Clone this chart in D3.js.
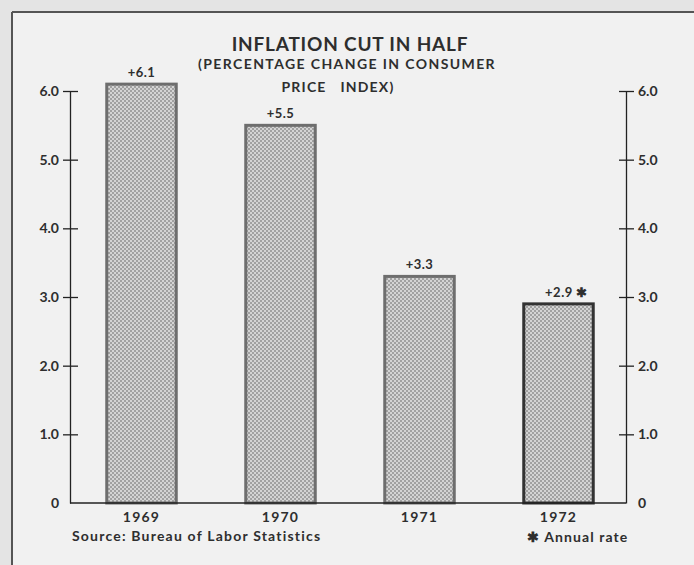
<!DOCTYPE html>
<html>
<head>
<meta charset="utf-8">
<script src="https://cdn.jsdelivr.net/npm/d3@7"></script>
<style>
  body { margin: 0; background: #e6e6e6; }
  svg { display: block; }
  text { font-family: Lato, "Open Sans", sans-serif; fill: #2e2e2e; }
</style>
</head>
<body>
<div id="container"></div>
<script>
// chart values
var years = ["1969", "1970", "1971", "1972"];
var changes = [6.1, 5.5, 3.3, 2.9];
var valueLabels = ["+6.1", "+5.5", "+3.3", "+2.9"];
var annualRate = [false, false, false, true];
var tickValues = [0, 1, 2, 3, 4, 5, 6];

var W = 694, H = 565;

var svg = d3.select("#container")
    .append("svg")
    .attr("width", W)
    .attr("height", H);

// paper
svg.append("rect").attr("width", W).attr("height", H).attr("fill", "#e4e4e4");
svg.append("rect")
    .attr("x", 13).attr("y", 13)
    .attr("width", W - 13).attr("height", H - 13)
    .attr("fill", "#f1f1f1");

// frame lines of the clipping
svg.append("line").attr("x1", 12).attr("x2", W).attr("y1", 12).attr("y2", 12)
    .attr("stroke", "#555").attr("stroke-width", 2);
svg.append("line").attr("x1", 12).attr("x2", 12).attr("y1", 12).attr("y2", H)
    .attr("stroke", "#555").attr("stroke-width", 2);

// dot screen for the bars
var defs = svg.append("defs");
var pat = defs.append("pattern")
    .attr("id", "screen")
    .attr("patternUnits", "userSpaceOnUse")
    .attr("width", 4).attr("height", 4);
pat.append("rect").attr("width", 4).attr("height", 4).attr("fill", "#d4d4d4");
pat.append("circle").attr("cx", 1).attr("cy", 1).attr("r", 1).attr("fill", "#909090");
pat.append("circle").attr("cx", 3).attr("cy", 3).attr("r", 1).attr("fill", "#909090");

var plotLeft = 70, plotRight = 626, plotTop = 91, plotBottom = 503;

var x = d3.scaleBand()
    .domain(years)
    .range([plotLeft + 2, plotRight + 2])
    .paddingInner(0.5)
    .paddingOuter(0.25);

var y = d3.scaleLinear()
    .domain([0, 6])
    .range([plotBottom, plotTop]);

var fmt = function (d) { return d === 0 ? "0" : d3.format(".1f")(d); };

// left axis
var yLeft = svg.append("g")
    .attr("transform", "translate(" + plotLeft + ",0)")
    .call(d3.axisLeft(y).tickValues(tickValues).tickFormat(fmt).tickSize(0).tickPadding(11));
yLeft.select(".domain").attr("stroke", "#222").attr("stroke-width", 1.3);
yLeft.selectAll(".tick").filter(function (d) { return d > 0; })
    .append("line").attr("x1", -7).attr("x2", 8).attr("stroke", "#222").attr("stroke-width", 1.3);
yLeft.selectAll("text").attr("font-size", 14).attr("font-weight", "bold").attr("fill", "#3a3a3a")
    .attr("font-family", "Lato, sans-serif");

// right axis
var yRight = svg.append("g")
    .attr("transform", "translate(" + plotRight + ",0)")
    .call(d3.axisRight(y).tickValues(tickValues).tickFormat(fmt).tickSize(0).tickPadding(12));
yRight.select(".domain").attr("stroke", "#222").attr("stroke-width", 1.3);
yRight.selectAll(".tick").filter(function (d) { return d > 0; })
    .append("line").attr("x1", -7).attr("x2", 8).attr("stroke", "#222").attr("stroke-width", 1.3);
yRight.selectAll("text").attr("font-size", 14).attr("font-weight", "bold").attr("fill", "#3a3a3a")
    .attr("font-family", "Lato, sans-serif");

// bars
svg.selectAll("rect.bar")
    .data(changes)
    .enter()
    .append("rect")
    .attr("class", "bar")
    .attr("x", function (d, i) { return x(years[i]); })
    .attr("y", function (d) { return y(d); })
    .attr("width", x.bandwidth())
    .attr("height", function (d) { return y(0) - y(d); })
    .attr("fill", "url(#screen)")
    .attr("stroke", function (d, i) { return annualRate[i] ? "#333" : "#6e6e6e"; })
    .attr("stroke-width", 3);

// baseline
var xAxis = svg.append("g")
    .attr("transform", "translate(0," + plotBottom + ")")
    .call(d3.axisBottom(x).tickSize(0).tickPadding(9));
xAxis.select(".domain").attr("stroke", "#222").attr("stroke-width", 1.5)
    .attr("d", "M" + plotLeft + ",0H" + plotRight);
xAxis.selectAll("text").attr("font-size", 14).attr("font-weight", "bold").attr("fill", "#2e2e2e")
    .attr("font-family", "Lato, sans-serif").attr("letter-spacing", 1.2);

// value labels
svg.selectAll("text.val")
    .data(changes)
    .enter()
    .append("text")
    .attr("class", "val")
    .attr("x", function (d, i) { return x(years[i]) + x.bandwidth() / 2 + (annualRate[i] ? 8 : 0); })
    .attr("y", function (d) { return y(d) - 7; })
    .attr("text-anchor", "middle")
    .attr("font-size", 13)
    .attr("font-weight", "bold")
    .attr("letter-spacing", 0.5)
    .text(function (d, i) { return valueLabels[i] + (annualRate[i] ? " \u2731" : ""); });

// titles
svg.append("text").attr("x", 350).attr("y", 51).attr("text-anchor", "middle")
    .attr("font-size", 19).attr("font-weight", "bold").attr("letter-spacing", 0.8)
    .text("INFLATION CUT IN HALF");
svg.append("text").attr("x", 347).attr("y", 69).attr("text-anchor", "middle")
    .attr("font-size", 14).attr("font-weight", "bold").attr("letter-spacing", 1.4)
    .text("(PERCENTAGE CHANGE IN CONSUMER");
svg.append("text").attr("x", 338).attr("y", 92).attr("text-anchor", "middle")
    .attr("font-size", 14).attr("font-weight", "bold").attr("letter-spacing", 1.2)
    .attr("xml:space", "preserve")
    .text("PRICE   INDEX)");

// footnotes
svg.append("text").attr("x", 72).attr("y", 541)
    .attr("font-size", 14).attr("font-weight", "bold").attr("letter-spacing", 1.2)
    .text("Source: Bureau of Labor Statistics");
svg.append("text").attr("x", 527).attr("y", 542)
    .attr("font-size", 14).attr("font-weight", "bold").attr("letter-spacing", 1.1)
    .text("\u2731 Annual rate");
</script>
</body>
</html>
